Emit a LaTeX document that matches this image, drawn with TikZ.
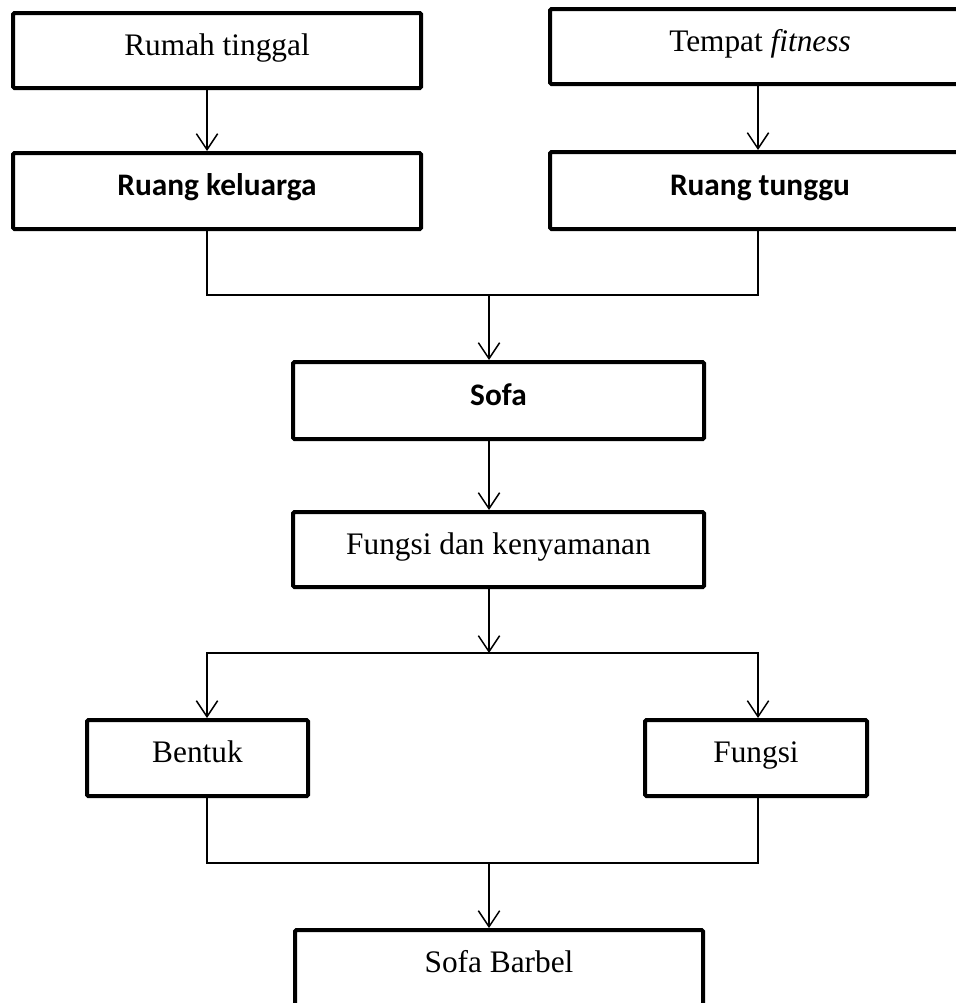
\documentclass[tikz,border=0pt]{standalone}
\usepackage{fontspec}
\setmainfont{Liberation Serif}
\newfontfamily\calibri{Carlito}
\usepackage{tikz}
\usetikzlibrary{arrows.meta}

\begin{document}
\begin{tikzpicture}[x=0.75pt,y=0.75pt,yscale=-1,xscale=1,
  kotak/.style={draw, line width=3pt, rounded corners=1pt, inner sep=0pt, align=center,
    text height=14pt, text depth=7.25pt, font=\fontsize{23.5}{28}\selectfont},
  garis/.style={line width=1.1pt},
  panah/.style={garis, -{Straight Barb[length=12pt,width=16pt,line width=1.1pt]}}]
%set diagram left start at 0, and has height of 1003
\useasboundingbox (0,0) rectangle (956,1003);

% columns of the connectors
\coordinate (kiri) at (207,0);
\coordinate (kanan) at (758,0);
\coordinate (tengah1) at (489,295);
\coordinate (tengah2) at (489,653);
\coordinate (tengah3) at (489,863);

%Rect [id:rumah]
\node [kotak, minimum width=306pt, minimum height=56.25pt] (rumah) at (217,50.5) {Rumah tinggal};
%Rect [id:fitness]
\node [kotak, minimum width=315pt, minimum height=56.25pt] (fitness) at (760,46.5) {Tempat \textit{fitness}};
%Rect [id:keluarga]
\node [kotak, minimum width=306pt, minimum height=57pt] (keluarga) at (217,191) {\calibri\bfseries Ruang keluarga};
%Rect [id:tunggu]
\node [kotak, minimum width=315pt, minimum height=57.75pt] (tunggu) at (760,190.5) {\calibri\bfseries Ruang tunggu};
%Rect [id:sofa]
\node [kotak, minimum width=308.25pt, minimum height=57.75pt] (sofa) at (498.5,400.5) {\calibri\bfseries Sofa};
%Rect [id:kenyamanan]
\node [kotak, minimum width=308.25pt, minimum height=56.25pt] (kenyamanan) at (498.5,549.5) {Fungsi dan kenyamanan};
%Rect [id:bentuk]
\node [kotak, minimum width=165.75pt, minimum height=57pt] (bentuk) at (197.5,758) {Bentuk};
%Rect [id:fungsi]
\node [kotak, minimum width=166.5pt, minimum height=57pt] (fungsi) at (756,758) {Fungsi};
%Rect [id:barbel]
\node [kotak, minimum width=306pt, minimum height=56.25pt] (barbel) at (499,967.5) {Sofa Barbel};

%Straight Lines
\draw [panah] (rumah.south -| kiri) -- (keluarga.north -| kiri);
\draw [panah] (fitness.south -| kanan) -- (tunggu.north -| kanan);
%Straight Lines
\draw [garis] (keluarga.south -| kiri) |- (tengah1) -| (tunggu.south -| kanan);
\draw [panah] (tengah1) -- (sofa.north -| tengah1);
\draw [panah] (sofa.south -| tengah1) -- (kenyamanan.north -| tengah1);
\draw [panah] (kenyamanan.south -| tengah2) -- (tengah2);
%Straight Lines
\draw [panah] (tengah2) -| (bentuk.north -| kiri);
\draw [panah] (tengah2) -| (fungsi.north -| kanan);
%Straight Lines
\draw [garis] (bentuk.south -| kiri) |- (tengah3) -| (fungsi.south -| kanan);
\draw [panah] (tengah3) -- (barbel.north -| tengah3);

\end{tikzpicture}
\end{document}
